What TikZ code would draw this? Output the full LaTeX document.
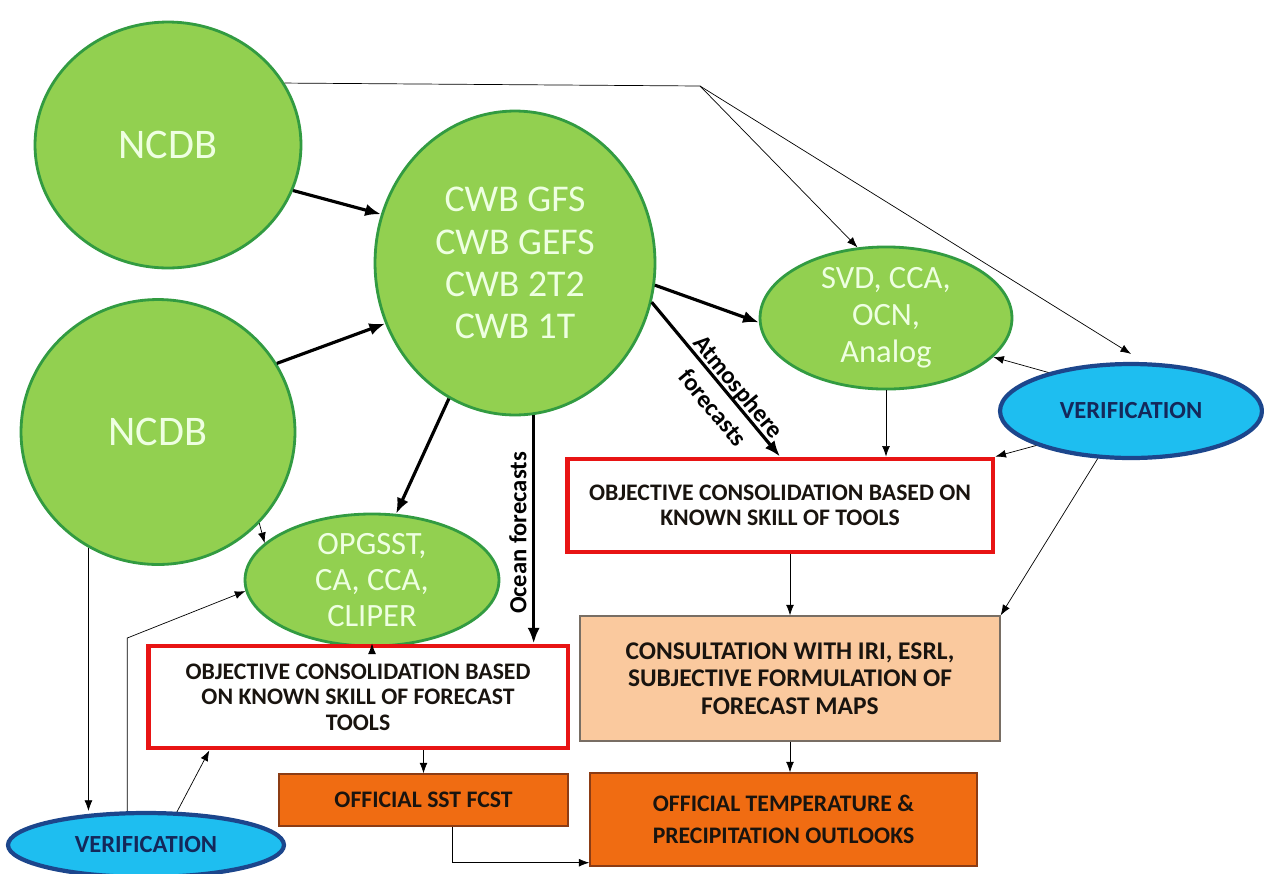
\documentclass[tikz,border=0pt]{standalone}
\usepackage{fontspec}
\setmainfont{Carlito}
\usetikzlibrary{shapes.geometric,arrows.meta,calc}
\definecolor{gfill}{RGB}{146,208,80}
\definecolor{gdraw}{RGB}{50,155,65}
\definecolor{gtext}{RGB}{238,255,225}
\definecolor{bfill}{RGB}{30,190,240}
\definecolor{bdraw}{RGB}{28,70,140}
\definecolor{btext}{RGB}{20,40,90}
\definecolor{redb}{RGB}{232,20,20}
\definecolor{peach}{RGB}{250,201,158}
\definecolor{peachd}{RGB}{120,110,100}
\definecolor{orng}{RGB}{240,108,18}
\definecolor{orngd}{RGB}{140,60,20}
\definecolor{thin}{RGB}{50,50,50}
\definecolor{boxtext}{RGB}{25,20,15}
\tikzset{
  greenell/.style={ellipse, draw=gdraw, line width=1.6pt, fill=gfill, text=gtext, align=center, inner sep=0pt},
  blueell/.style={ellipse, draw=bdraw, line width=2.4pt, fill=bfill, text=btext, font=\fontsize{14}{15}\selectfont\bfseries, inner sep=0pt},
  redbox/.style={rectangle, draw=redb, line width=2.8pt, fill=white, text=boxtext, align=center, font=\fontsize{13.5}{14.5}\selectfont\bfseries},
  peachbox/.style={rectangle, draw=peachd, line width=0.8pt, fill=peach, text=boxtext, align=center, font=\fontsize{14.5}{15.5}\selectfont\bfseries},
  orangebox/.style={rectangle, draw=orngd, line width=0.8pt, fill=orng, text=boxtext, align=center, font=\fontsize{13.5}{18}\selectfont\bfseries},
  thickarr/.style={-{Latex[length=9pt,width=7pt]}, line width=1.8pt, black},
  thinarr/.style={-{Latex[length=6pt,width=4.5pt]}, line width=0.7pt, thin},
  thinline/.style={line width=0.7pt, thin},
  lbl/.style={font=\fontsize{14}{15}\selectfont\bfseries, text=black, align=center}
}
\begin{document}
\begin{tikzpicture}[x=0.02cm,y=-0.02cm]
\useasboundingbox[fill=white] (0,0) rectangle (1264,873);

% green ellipses
\node[greenell, minimum width=5.32cm, minimum height=4.92cm, font=\fontsize{24}{26}\selectfont] (ncdb1) at (168,145) {NCDB};
\node[greenell, minimum width=5.48cm, minimum height=5.3cm, font=\fontsize{24}{26}\selectfont] (ncdb2) at (158,432) {NCDB};
\node[greenell, minimum width=5.6cm, minimum height=6.08cm, font=\fontsize{21.5}{24}\selectfont] (cwb) at (515,263) {CWB GFS\\CWB GEFS\\CWB 2T2\\CWB 1T};
\node[greenell, minimum width=5.04cm, minimum height=2.64cm, font=\fontsize{18.5}{21}\selectfont] (svd) at (886,318) {SVD, CCA,\\OCN,\\Analog};
\node[greenell, minimum width=5.08cm, minimum height=1.96cm, font=\fontsize{18.5}{20.5}\selectfont] (opg) at (372,580) {OPGSST,\\CA, CCA,\\CLIPER};

% blue ellipses
\node[blueell, minimum width=5.24cm, minimum height=1.88cm] (verR) at (1131,411) {VERIFICATION};
\node[blueell, minimum width=5.52cm, minimum height=1.28cm] (verL) at (146,845) {VERIFICATION};

% boxes
\node[redbox, minimum width=8.52cm, minimum height=1.86cm] (redR) at (780,505.5) {OBJECTIVE CONSOLIDATION BASED ON\\KNOWN SKILL OF TOOLS};
\node[redbox, minimum width=8.4cm, minimum height=2.04cm] (redL) at (358,697) {OBJECTIVE CONSOLIDATION BASED\\ON KNOWN SKILL OF FORECAST\\TOOLS};
\node[peachbox, minimum width=8.4cm, minimum height=2.5cm] (peach) at (790,678.5) {CONSULTATION WITH IRI, ESRL,\\SUBJECTIVE FORMULATION OF\\FORECAST MAPS};
\node[orangebox, minimum width=5.78cm, minimum height=1.04cm] (sst) at (423.5,800) {OFFICIAL SST FCST};
\node[orangebox, minimum width=7.74cm, minimum height=1.86cm] (temp) at (783.5,819.5) {OFFICIAL TEMPERATURE \&\\PRECIPITATION OUTLOOKS};

% helper coordinates
\coordinate (split) at (700,86);
\coordinate (vbend) at (128,638);
\coordinate (sstout) at ($(sst.south west)!0.6!(sst.south east)$);
\coordinate (tempin) at ($(temp.south west)+(0,-4)$);
\coordinate (redLin) at ($(redL.south west)!0.15!(redL.south east)$);

% thick arrows
\draw[thickarr] (ncdb1.-20) -- (cwb.160);
\draw[thickarr] (ncdb2.30) -- (cwb.205);
\draw[thickarr] (cwb.-9) -- (svd.182);
\draw[thickarr] (cwb.-16) -- node[sloped, pos=0.6, lbl, font=\fontsize{14}{19}\selectfont\bfseries, inner sep=1pt, yshift=-2pt] {Atmosphere\\forecasts} (redR.north);
\draw[thickarr] (cwb.244) -- (opg.70);
\draw[thickarr] (cwb.277) -- (cwb.277 |- redL.north);
\node[lbl, rotate=90] (ocean) at (518,533) {Ocean forecasts};

% thin connectors
\draw[thinline] (ncdb1.28) -- (split);
\draw[thinarr] (split) -- (svd.112);
\draw[thinarr] (split) -- ($(verR.north)+(0,-8)$);
\draw[thinarr] (svd.south) -- (svd.south |- redR.north);
\draw[thinarr] (verR.155) -- (svd.-20);
\draw[thinarr] (verR.200) -- (redR.north east);
\draw[thinarr] (verR.235) -- (peach.north east);
\draw[thinarr] (redR.south -| peach.north) -- (peach.north);
\draw[thinarr] (peach.south) -- (peach.south |- temp.north);
\draw[thinarr] (ncdb2.-42) -- (opg.161);
\draw[thinarr] (ncdb2.239) -- (ncdb2.239 |- verL.north);
\draw[thinarr] (verL.119) -- (verL.119 |- vbend) -- (opg.185);
\draw[thinarr] (verL.47) -- (redLin);
\draw[thinarr] (opg.south) -- (opg.south |- redL.north);
\draw[thinarr] (redL.south -| sst.north) -- (sst.north);
\draw[thinarr] (sstout) |- (tempin);
\end{tikzpicture}
\end{document}
